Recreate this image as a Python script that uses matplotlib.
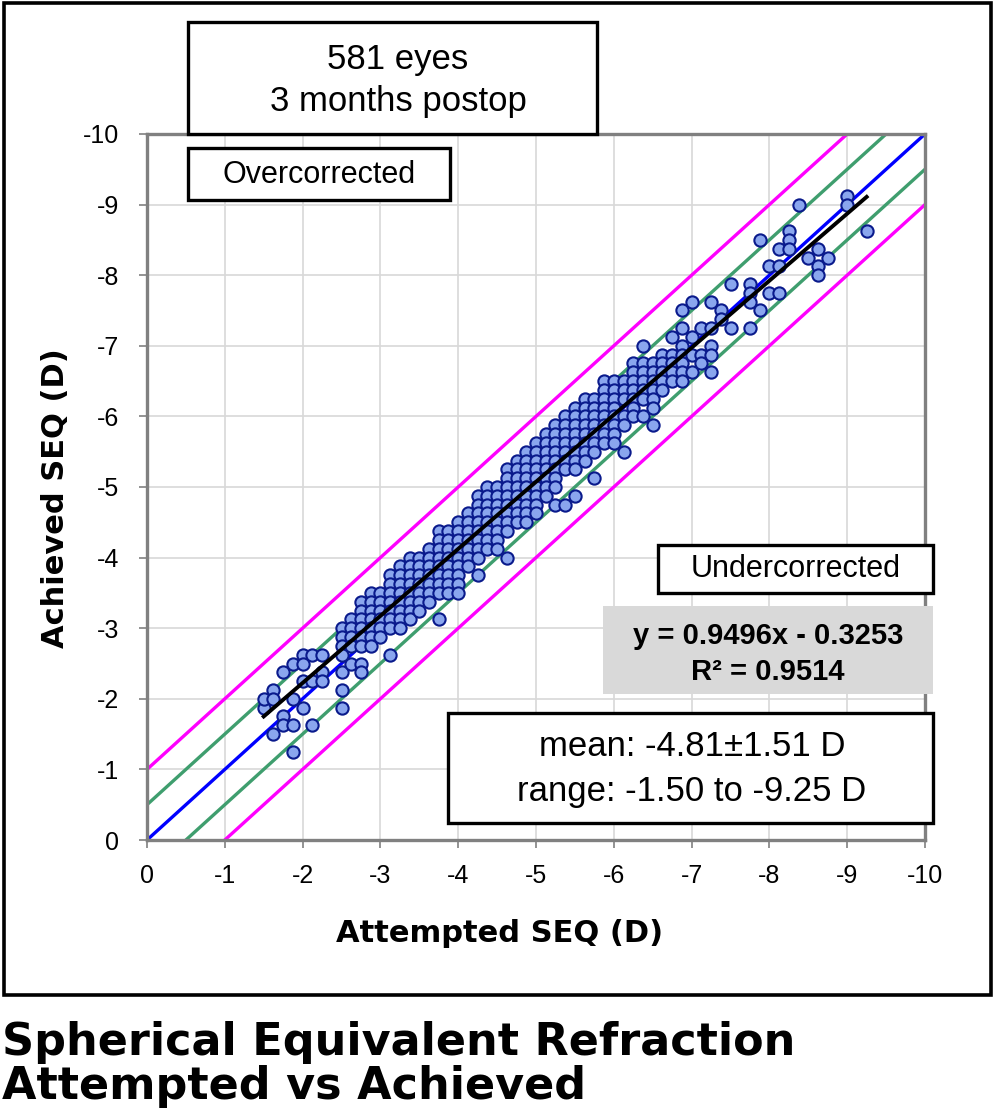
import matplotlib.pyplot as plt
from matplotlib.patches import Rectangle

plt.rcParams['axes.unicode_minus'] = False

# attempted SEQ columns (0.125 D steps) and the achieved values read for each
att_cols = [-1.5, -1.625, -1.75, -1.875, -2.0, -2.125, -2.25, -2.5, -2.625, -2.75,
            -2.875, -3.0, -3.125, -3.25, -3.375, -3.5, -3.625, -3.75, -3.875, -4.0,
            -4.125, -4.25, -4.375, -4.5, -4.625, -4.75, -4.875, -5.0, -5.125, -5.25,
            -5.375, -5.5, -5.625, -5.75, -5.875, -6.0, -6.125, -6.25, -6.375, -6.5,
            -6.625, -6.75, -6.875, -7.0, -7.125, -7.25, -7.375, -7.5, -7.75, -7.875,
            -8.0, -8.125, -8.25, -8.375, -8.5, -8.625, -8.75, -9.0, -9.25]
ach_cols = [
    [-1.875, -2.0],
    [-2.125, -2.0, -1.5],
    [-2.375, -1.75, -1.625],
    [-2.5, -2.0, -1.625, -1.25],
    [-2.625, -2.5, -2.25, -1.875],
    [-2.625, -2.25, -1.625],
    [-2.625, -2.375, -2.25],
    [-3.0, -2.875, -2.75, -2.625, -2.375, -2.125, -1.875],
    [-3.125, -3.0, -2.875, -2.75, -2.5],
    [-3.375, -3.25, -3.125, -3.0, -2.875, -2.75, -2.5, -2.375],
    [-3.5, -3.375, -3.25, -3.125, -3.0, -2.875, -2.75],
    [-3.5, -3.375, -3.25, -3.125, -3.0, -2.875],
    [-3.75, -3.625, -3.5, -3.375, -3.25, -3.125, -3.0, -2.625],
    [-3.875, -3.75, -3.625, -3.5, -3.375, -3.25, -3.125, -3.0],
    [-4.0, -3.875, -3.75, -3.625, -3.5, -3.375, -3.25, -3.125],
    [-4.0, -3.875, -3.75, -3.625, -3.5, -3.375, -3.25],
    [-4.125, -4.0, -3.875, -3.75, -3.625, -3.5, -3.375],
    [-4.375, -4.25, -4.125, -4.0, -3.875, -3.75, -3.625, -3.5, -3.125],
    [-4.375, -4.25, -4.125, -4.0, -3.875, -3.75, -3.625, -3.5],
    [-4.5, -4.375, -4.25, -4.125, -4.0, -3.875, -3.75, -3.625, -3.5],
    [-4.625, -4.5, -4.375, -4.25, -4.125, -4.0, -3.875],
    [-4.875, -4.75, -4.625, -4.5, -4.375, -4.25, -4.125, -4.0, -3.75],
    [-5.0, -4.875, -4.75, -4.625, -4.5, -4.375, -4.25, -4.125],
    [-5.0, -4.875, -4.75, -4.625, -4.5, -4.375, -4.25, -4.125],
    [-5.25, -5.125, -5.0, -4.875, -4.75, -4.625, -4.5, -4.375, -4.0],
    [-5.375, -5.25, -5.125, -5.0, -4.875, -4.75, -4.625, -4.5],
    [-5.5, -5.375, -5.25, -5.125, -5.0, -4.875, -4.75, -4.625, -4.5],
    [-5.625, -5.5, -5.375, -5.25, -5.125, -5.0, -4.875, -4.75, -4.625],
    [-5.75, -5.625, -5.5, -5.375, -5.25, -5.125, -5.0, -4.875],
    [-5.875, -5.75, -5.625, -5.5, -5.375, -5.25, -5.125, -5.0, -4.75],
    [-6.0, -5.875, -5.75, -5.625, -5.5, -5.375, -5.25, -4.75],
    [-6.125, -6.0, -5.875, -5.75, -5.625, -5.5, -5.375, -5.25, -4.875],
    [-6.25, -6.125, -6.0, -5.875, -5.75, -5.625, -5.5, -5.375],
    [-6.25, -6.125, -6.0, -5.875, -5.75, -5.625, -5.5, -5.125],
    [-6.5, -6.375, -6.25, -6.125, -6.0, -5.875, -5.75, -5.625],
    [-6.5, -6.375, -6.25, -6.125, -6.0, -5.875, -5.75, -5.625],
    [-6.5, -6.375, -6.25, -6.0, -5.875, -5.5],
    [-6.75, -6.625, -6.5, -6.375, -6.25, -6.125, -6.0],
    [-7.0, -6.75, -6.625, -6.5, -6.375, -6.25, -6.0],
    [-6.75, -6.625, -6.5, -6.375, -6.25, -6.125, -5.875],
    [-6.875, -6.75, -6.625, -6.5, -6.375],
    [-7.125, -6.875, -6.75, -6.625, -6.5],
    [-7.5, -7.25, -7.0, -6.875, -6.75, -6.625, -6.5],
    [-7.625, -7.125, -6.875, -6.625],
    [-7.25, -6.875, -6.75],
    [-7.625, -7.25, -7.0, -6.875, -6.625],
    [-7.5, -7.375],
    [-7.875, -7.25],
    [-7.875, -7.75, -7.625, -7.25],
    [-8.5, -7.5],
    [-8.125, -7.75],
    [-8.375, -8.125, -7.75],
    [-8.625, -8.5, -8.375],
    [-9.0],
    [-8.25],
    [-8.375, -8.125, -8.0],
    [-8.25],
    [-9.125, -9.0],
    [-8.625],
]

# trend line from the chart's equation
slope = 0.9496
intercept = -0.3253
fit_range = [-1.5, -9.25]

ticks = [0, -1, -2, -3, -4, -5, -6, -7, -8, -9, -10]

attempted = []
achieved = []
for xv, ys in zip(att_cols, ach_cols):
    for yv in ys:
        attempted.append(xv)
        achieved.append(yv)

W, H = 995, 1117
fig = plt.figure(figsize=(W / 100, H / 100), dpi=100)


def fx(px):
    return px / W


def fy(py):
    return 1 - py / H


ax = fig.add_axes([fx(147), fy(840), fx(925) - fx(147), fy(134) - fy(840)])

# reference lines: perfect, +/-0.5 D and +/-1 D
edge = [0, -10]
ax.plot(edge, [v - 1 for v in edge], color='#ff00ff', lw=2.4, zorder=2)
ax.plot(edge, [v + 1 for v in edge], color='#ff00ff', lw=2.4, zorder=2)
ax.plot(edge, [v - 0.5 for v in edge], color='#3f9e6e', lw=2.4, zorder=2)
ax.plot(edge, [v + 0.5 for v in edge], color='#3f9e6e', lw=2.4, zorder=2)
ax.plot(edge, edge, color='#0000ff', lw=2.4, zorder=2)

ax.scatter(attempted, achieved, s=78, facecolor='#8aa6ee', edgecolor='#0a1a8c',
           linewidths=1.5, zorder=3)

fit_y = [slope * v + intercept for v in fit_range]
ax.plot(fit_range, fit_y, color='black', lw=2.8, zorder=4)

ax.set_xlim(0, -10)
ax.set_ylim(0, -10)
ax.set_xticks(ticks)
ax.set_yticks(ticks)
ax.set_xticklabels([str(t) for t in ticks], fontsize=18, family='Liberation Sans')
ax.set_yticklabels([str(t) for t in ticks], fontsize=18, family='Liberation Sans')
ax.grid(True, color='#d8d8d8', lw=1.2)
ax.set_axisbelow(True)
for sp in ax.spines.values():
    sp.set_color('#808080')
    sp.set_linewidth(2.4)
ax.tick_params(color='#808080', length=6, width=1.2)
ax.tick_params(axis='x', pad=11)
ax.tick_params(axis='y', pad=14)

fig.text(fx(500), fy(933), 'Attempted SEQ (D)', ha='center', va='center',
         fontsize=22, fontweight='bold', family='DejaVu Sans')
fig.text(fx(55), fy(498), 'Achieved SEQ (D)', ha='center', va='center', rotation=90,
         fontsize=22, fontweight='bold', family='DejaVu Sans')

# outer frame
fig.patches.append(Rectangle((fx(4), fy(995)), fx(991) - fx(4), fy(3) - fy(995),
                             transform=fig.transFigure, fill=False,
                             edgecolor='black', lw=2.6, zorder=1))


def box(x0, y0, x1, y1, face='white', edge='black', lw=2.4):
    fig.patches.append(Rectangle((fx(x0), fy(y1)), fx(x1) - fx(x0), fy(y0) - fy(y1),
                                 transform=fig.transFigure, facecolor=face,
                                 edgecolor=edge, lw=lw, zorder=5))


box(188, 22, 597, 134)
fig.text(fx(398), fy(59), '581 eyes', ha='center', va='center', fontsize=25,
         family='Liberation Sans', zorder=6)
fig.text(fx(398), fy(102), '3 months postop', ha='center', va='center', fontsize=25,
         family='Liberation Sans', zorder=6)

box(188, 148, 450, 200)
fig.text(fx(319), fy(175), 'Overcorrected', ha='center', va='center', fontsize=22,
         family='Liberation Sans', zorder=6)

box(658, 545, 933, 593)
fig.text(fx(796), fy(569), 'Undercorrected', ha='center', va='center', fontsize=22,
         family='Liberation Sans', zorder=6)

box(603, 606, 933, 694, face='#d9d9d9', edge='#d9d9d9', lw=0)
fig.text(fx(768), fy(636), 'y = 0.9496x - 0.3253', ha='center', va='center',
         fontsize=21, fontweight='bold', family='Liberation Sans', zorder=6)
fig.text(fx(768), fy(672), 'R² = 0.9514', ha='center', va='center',
         fontsize=21, fontweight='bold', family='Liberation Sans', zorder=6)

box(448, 713, 933, 823)
fig.text(fx(692), fy(747), 'mean: -4.81±1.51 D', ha='center', va='center',
         fontsize=25, family='Liberation Sans', zorder=6)
fig.text(fx(692), fy(792), 'range: -1.50 to -9.25 D', ha='center', va='center',
         fontsize=25, family='Liberation Sans', zorder=6)

fig.text(fx(2), fy(1042), 'Spherical Equivalent Refraction', ha='left', va='center',
         fontsize=32, fontweight='bold', family='DejaVu Sans')
fig.text(fx(2), fy(1087), 'Attempted vs Achieved', ha='left', va='center',
         fontsize=32, fontweight='bold', family='DejaVu Sans')

fig.savefig('out.png', dpi=100)
